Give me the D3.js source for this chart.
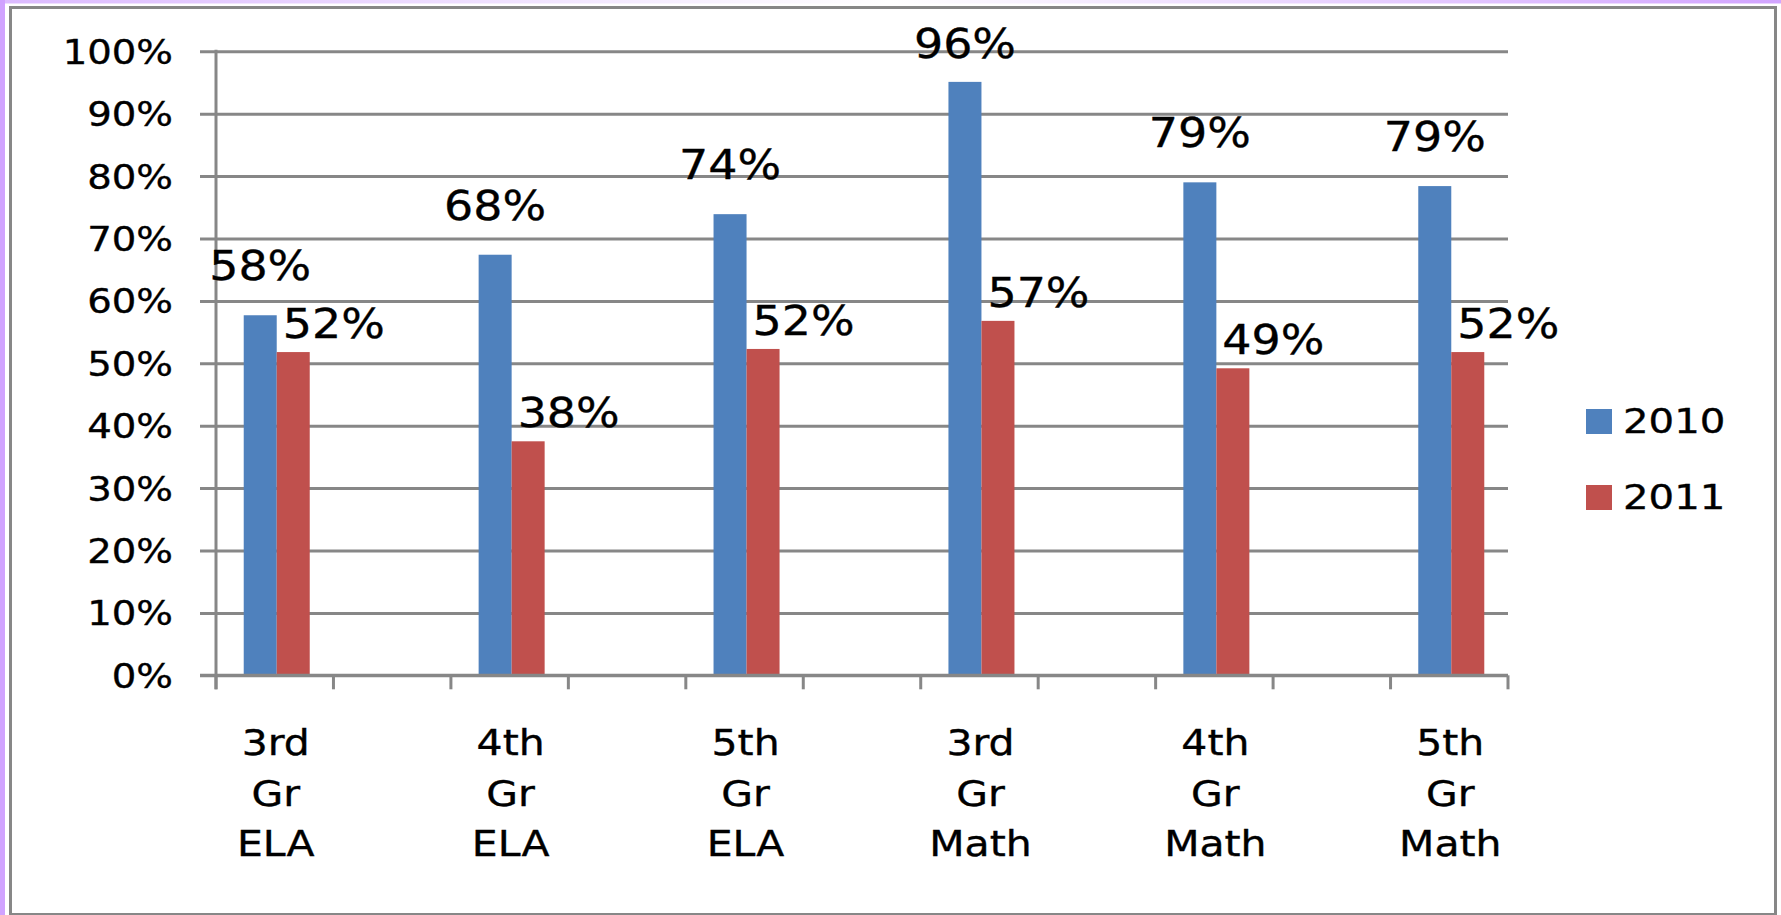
<!DOCTYPE html>
<html>
<head>
<meta charset="utf-8">
<script src="https://cdn.jsdelivr.net/npm/d3@7"></script>
<style>
  html, body { margin: 0; padding: 0; background: #fff; }
  svg { display: block; }
  text { font-family: "DejaVu Sans", Verdana, sans-serif; fill: #000; stroke: #000; stroke-width: 0.35px; }
</style>
</head>
<body>
<svg id="chart" width="1781" height="915"></svg>
<script>
// ---- data (Excel source has blank spacer categories between the groups) ----
const categories = ["3rd Gr ELA", "", "4th Gr ELA", "", "5th Gr ELA", "", "3rd Gr Math", "", "4th Gr Math", "", "5th Gr Math"];
const seriesNames = ["2010", "2011"];
const values2010 = [0.577, null, 0.674, null, 0.739, null, 0.951, null, 0.790, null, 0.784];
const values2011 = [0.518, null, 0.375, null, 0.523, null, 0.568, null, 0.492, null, 0.518];
const labels2010 = ["58%", null, "68%", null, "74%", null, "96%", null, "79%", null, "79%"];
const labels2011 = ["52%", null, "38%", null, "52%", null, "57%", null, "49%", null, "52%"];
const yTickValues = [0, 0.1, 0.2, 0.3, 0.4, 0.5, 0.6, 0.7, 0.8, 0.9, 1.0];
const yTickLabels = ["0%", "10%", "20%", "30%", "40%", "50%", "60%", "70%", "80%", "90%", "100%"];

// ---- layout ----
const W = 1781, H = 915;
const plot = { left: 216, right: 1508, top: 51.3, bottom: 675.3 };
const colors = ["#4f81bd", "#c0504d"];
const gridColor = "#878787";

const svg = d3.select("#chart");

// decorative page edges
const defs = svg.append("defs");
const grad = defs.append("linearGradient").attr("id", "topband").attr("x1", "0").attr("x2", "1");
grad.append("stop").attr("offset", "0").attr("stop-color", "#dcbaff");
grad.append("stop").attr("offset", "0.5").attr("stop-color", "#ffffff");
grad.append("stop").attr("offset", "1").attr("stop-color", "#d2a4ff");
svg.append("rect").attr("x", 0).attr("y", 0).attr("width", W).attr("height", H).attr("fill", "#fff");
svg.append("rect").attr("x", 0).attr("y", 0).attr("width", W).attr("height", 3.5).attr("fill", "url(#topband)");
svg.append("rect").attr("x", 0).attr("y", 0).attr("width", 5).attr("height", H).attr("fill", "#d0a2ff");

// chart frame
svg.append("rect")
  .attr("x", 10.5).attr("y", 7.5).attr("width", 1765).attr("height", 907)
  .attr("fill", "none").attr("stroke", gridColor).attr("stroke-width", 3);

// scales
const x = d3.scaleBand().domain(d3.range(categories.length)).range([plot.left, plot.right]).paddingInner(0).paddingOuter(0);
const y = d3.scaleLinear().domain([0, 1]).range([plot.bottom, plot.top]);
const bw = x.bandwidth();
const barW = bw * 0.281;

// y axis with gridlines
const yAxis = svg.append("g")
  .attr("transform", `translate(${plot.left},0)`)
  .call(d3.axisLeft(y)
    .tickValues(yTickValues)
    .tickFormat((d, i) => yTickLabels[i])
    .tickSizeInner(-(plot.right - plot.left))
    .tickSizeOuter(0));
yAxis.select(".domain").remove();
yAxis.selectAll(".tick line")
  .attr("x1", -16)
  .attr("stroke", gridColor).attr("stroke-width", 3);
yAxis.selectAll(".tick text")
  .attr("x", 0).attr("dy", null)
  .attr("text-anchor", "end")
  .attr("transform", "translate(-43,12) scale(1.17,1)")
  .style("font-size", "33px")
  .style("font-family", "'DejaVu Sans', sans-serif")
  .attr("fill", "#000");

// vertical axis line
svg.append("line")
  .attr("x1", plot.left).attr("x2", plot.left)
  .attr("y1", y(1) - 1.5).attr("y2", plot.bottom + 14)
  .attr("stroke", gridColor).attr("stroke-width", 3);

// x axis tick marks at category boundaries
const boundaries = categories.map((c, i) => x(i)).concat([x.range()[1]]);
svg.append("g").selectAll("line").data(boundaries).join("line")
  .attr("x1", d => d).attr("x2", d => d)
  .attr("y1", plot.bottom).attr("y2", plot.bottom + 14)
  .attr("stroke", gridColor).attr("stroke-width", 3);

// bars
const seriesVals = [values2010, values2011];
const barsG = svg.append("g");
seriesVals.forEach((vals, s) => {
  const data = vals.map((v, i) => ({ i, v })).filter(d => d.v !== null);
  barsG.append("g").selectAll("rect").data(data).join("rect")
    .attr("x", d => x(d.i) + bw / 2 - barW + s * barW + 2)
    .attr("width", barW)
    .attr("y", d => y(d.v))
    .attr("height", d => y(0) - y(d.v))
    .attr("fill", colors[s]);
});

// x baseline on top of bars' bottom edge
svg.append("line")
  .attr("x1", plot.left - 16).attr("x2", plot.right)
  .attr("y1", y(0)).attr("y2", y(0))
  .attr("stroke", gridColor).attr("stroke-width", 3);

// data labels
const lab = svg.append("g").style("font-size", "41px");
values2010.forEach((v, i) => {
  if (v === null) return;
  const cx = x(i) + bw / 2 - barW / 2 + 2;
  const by = Math.max(y(v) - 35, y(1) + 7);
  lab.append("text")
    .attr("text-anchor", "middle")
    .attr("transform", `translate(${cx},${by}) scale(1.12,1)`)
    .text(labels2010[i]);
});
values2011.forEach((v, i) => {
  if (v === null) return;
  const sx = x(i) + bw / 2 + 2 + 6;
  const by = y(v) - 14;
  lab.append("text")
    .attr("text-anchor", "start")
    .attr("transform", `translate(${sx},${by}) scale(1.12,1)`)
    .text(labels2011[i]);
});

// category labels (stacked words)
const catG = svg.append("g").style("font-size", "35px");
categories.forEach((c, i) => {
  if (!c) return;
  const cx = x(i) + bw / 2 + 1;
  c.split(" ").forEach((w, k) => {
    catG.append("text")
      .attr("text-anchor", "middle")
      .attr("transform", `translate(${cx},${y(0) + 80 + k * 50.5}) scale(1.17,1)`)
      .text(w);
  });
});

// legend
const leg = svg.append("g").attr("transform", "translate(1586,409)");
seriesNames.forEach((n, s) => {
  const g = leg.append("g").attr("transform", `translate(0,${s * 76})`);
  g.append("rect").attr("width", 26).attr("height", 25).attr("fill", colors[s]);
  g.append("text")
    .attr("transform", "translate(37,24) scale(1.22,1)")
    .style("font-size", "33px")
    .text(n);
});
</script>
</body>
</html>
